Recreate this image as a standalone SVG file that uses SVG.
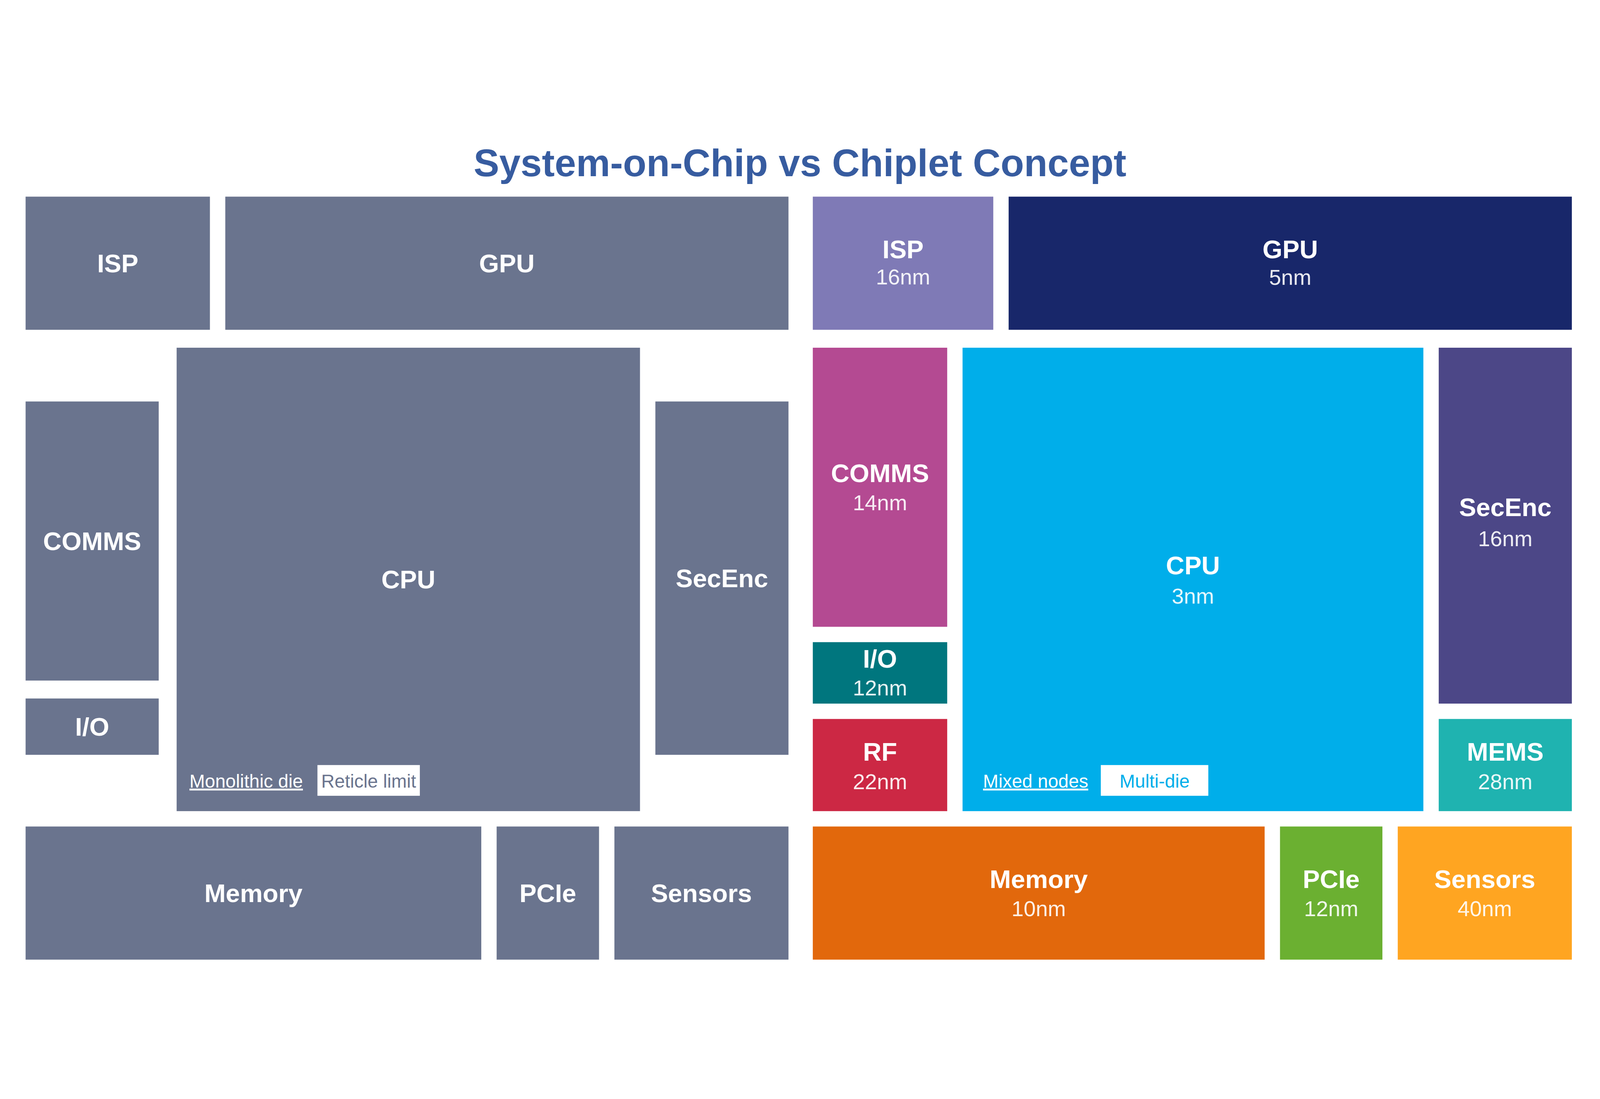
<svg xmlns="http://www.w3.org/2000/svg" width="5000" height="2813" viewBox="0 0 5000 2813">
<style>
svg:root{width:100vw;height:100vh;display:block}
.t{font-family:"Liberation Sans",Arial,sans-serif;fill:#fff;text-anchor:middle}
.n{font-size:80px;font-weight:bold}
.s{font-size:68px;opacity:.9}
.soc{fill:#6A748E}
.f{font-family:"Liberation Sans",Arial,sans-serif;font-size:58px}
</style>
<rect width="5000" height="2813" fill="#fff"/>
<text x="2500" y="240" text-anchor="middle" font-family="Liberation Sans, Arial, sans-serif" font-size="120" font-weight="bold" fill="#375CA0">System-on-Chip vs Chiplet Concept</text>
<g id="soc">
<g id="soc-isp"><rect class="soc" x="80" y="304" width="576" height="416"/><text class="t n" x="368" y="540">ISP</text></g>
<g id="soc-gpu"><rect class="soc" x="704" y="304" width="1760" height="416"/><text class="t n" x="1584" y="540">GPU</text></g>
<g id="soc-comms"><rect class="soc" x="80" y="944" width="416" height="872"/><text class="t n" x="288" y="1408">COMMS</text></g>
<g id="soc-io"><rect class="soc" x="80" y="1872" width="416" height="176"/><text class="t n" x="288" y="1988">I/O</text></g>
<g id="soc-cpu"><rect class="soc" x="552" y="776" width="1448" height="1448"/><text class="t n" x="1276" y="1528">CPU</text>
<text class="f" x="592" y="2150" fill="#fff" text-decoration="underline">Monolithic die</text>
<rect x="992" y="2080" width="320" height="96" fill="#fff"/><text class="f" x="1152" y="2150" text-anchor="middle" fill="#6A748E">Reticle limit</text></g>
<g id="soc-secenc"><rect class="soc" x="2048" y="944" width="416" height="1104"/><text class="t n" x="2256" y="1524">SecEnc</text></g>
<g id="soc-memory"><rect class="soc" x="80" y="2272" width="1424" height="416"/><text class="t n" x="792" y="2508">Memory</text></g>
<g id="soc-pcie"><rect class="soc" x="1552" y="2272" width="320" height="416"/><text class="t n" x="1712" y="2508">PCIe</text></g>
<g id="soc-sensors"><rect class="soc" x="1920" y="2272" width="544" height="416"/><text class="t n" x="2192" y="2508">Sensors</text></g>
</g>
<g id="chiplets">
<g id="c-isp"><rect x="2540" y="304" width="564" height="416" fill="#7F7AB6"/><text class="t n" x="2822" y="496">ISP</text><text class="t s" x="2822" y="578">16nm</text></g>
<g id="c-gpu"><rect x="3152" y="304" width="1760" height="416" fill="#18276A"/><text class="t n" x="4032" y="496">GPU</text><text class="t s" x="4032" y="580">5nm</text></g>
<g id="c-comms"><rect x="2540" y="776" width="420" height="872" fill="#B44A92"/><text class="t n" x="2750" y="1196">COMMS</text><text class="t s" x="2750" y="1284">14nm</text></g>
<g id="c-io"><rect x="2540" y="1696" width="420" height="192" fill="#00767E"/><text class="t n" x="2750" y="1776">I/O</text><text class="t s" x="2750" y="1862">12nm</text></g>
<g id="c-rf"><rect x="2540" y="1936" width="420" height="288" fill="#CC2844"/><text class="t n" x="2750" y="2066">RF</text><text class="t s" x="2750" y="2156">22nm</text></g>
<g id="c-cpu"><rect x="3008" y="776" width="1440" height="1448" fill="#00AEEA"/><text class="t n" x="3728" y="1484">CPU</text><text class="t s" x="3728" y="1576">3nm</text>
<text class="f" x="3072" y="2150" fill="#fff" text-decoration="underline">Mixed nodes</text>
<rect x="3440" y="2080" width="336" height="96" fill="#fff"/><text class="f" x="3608" y="2150" text-anchor="middle" fill="#00AEEA">Multi-die</text></g>
<g id="c-secenc"><rect x="4496" y="776" width="416" height="1112" fill="#4C4787"/><text class="t n" x="4704" y="1302">SecEnc</text><text class="t s" x="4704" y="1396">16nm</text></g>
<g id="c-mems"><rect x="4496" y="1936" width="416" height="288" fill="#1FB3B0"/><text class="t n" x="4704" y="2066">MEMS</text><text class="t s" x="4704" y="2156">28nm</text></g>
<g id="c-memory"><rect x="2540" y="2272" width="1412" height="416" fill="#E2680C"/><text class="t n" x="3246" y="2464">Memory</text><text class="t s" x="3246" y="2552">10nm</text></g>
<g id="c-pcie"><rect x="4000" y="2272" width="320" height="416" fill="#6BB031"/><text class="t n" x="4160" y="2464">PCIe</text><text class="t s" x="4160" y="2552">12nm</text></g>
<g id="c-sensors"><rect x="4368" y="2272" width="544" height="416" fill="#FFA521"/><text class="t n" x="4640" y="2464">Sensors</text><text class="t s" x="4640" y="2552">40nm</text></g>
</g>
<g id="connectors"/>
</svg>
